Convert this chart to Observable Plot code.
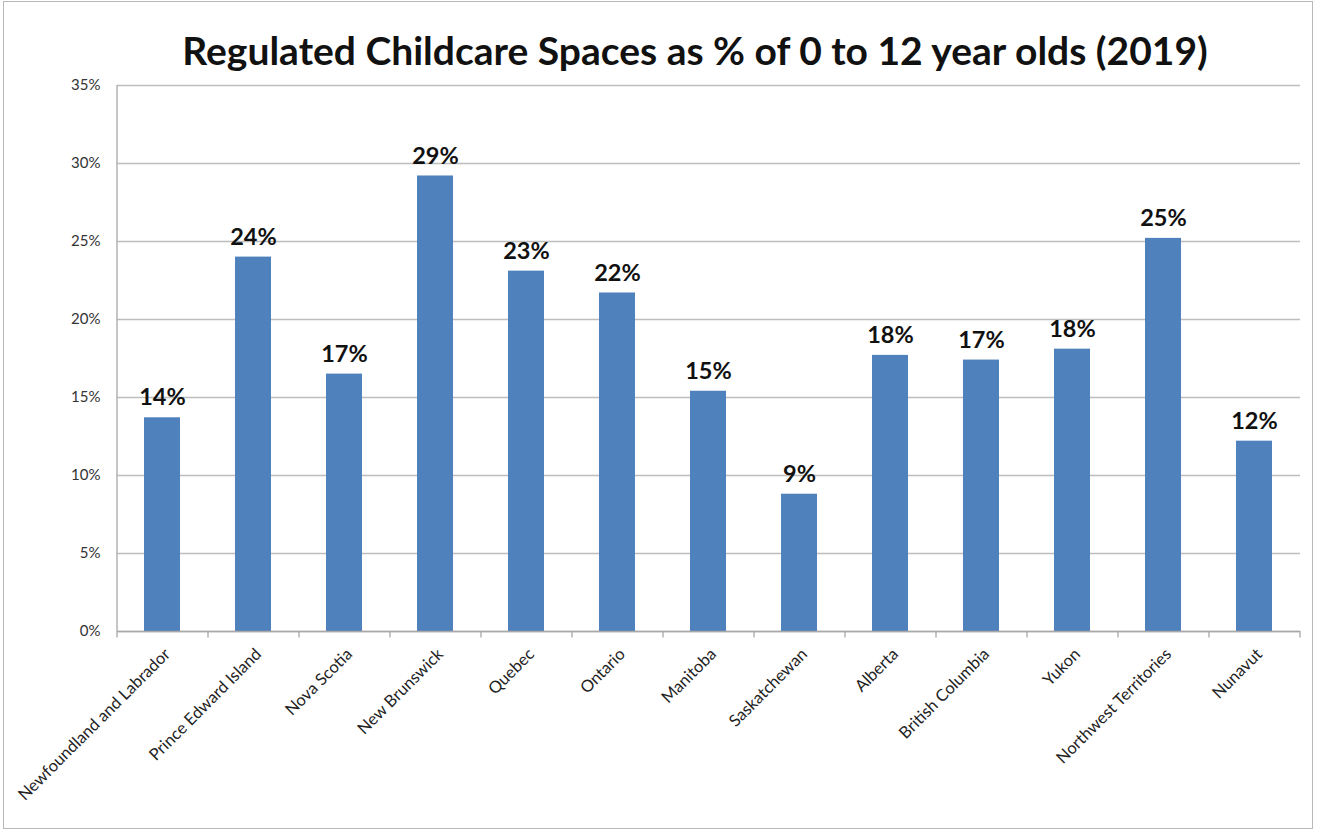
<!DOCTYPE html>
<html>
<head>
<meta charset="utf-8">
<script src="https://cdn.jsdelivr.net/npm/d3@7"></script>
<script src="https://cdn.jsdelivr.net/npm/@observablehq/plot@0.6"></script>
<style>
  html, body { margin: 0; padding: 0; background: #fff; }
  #frame { position: absolute; left: 3px; top: 1px; width: 1310px; height: 828px; border: 1.5px solid #b8b8b8; box-sizing: border-box; }
  #title { position: absolute; left: 0; top: 27px; width: 1390px; text-align: center; font-family: Lato, "Open Sans", sans-serif; font-weight: bold; font-size: 39px; color: #111; white-space: nowrap; }
  #chart { position: absolute; left: 0; top: 60px; }
</style>
</head>
<body>
<div id="frame"></div>
<div id="title">Regulated Childcare Spaces as % of 0 to 12 year olds (2019)</div>
<div id="chart"></div>
<script>
const provinces = ["Newfoundland and Labrador", "Prince Edward Island", "Nova Scotia", "New Brunswick", "Quebec", "Ontario", "Manitoba", "Saskatchewan", "Alberta", "British Columbia", "Yukon", "Northwest Territories", "Nunavut"];
const shares = [0.137, 0.240, 0.165, 0.292, 0.231, 0.217, 0.154, 0.088, 0.177, 0.174, 0.181, 0.252, 0.122];
const valueLabels = ["14%", "24%", "17%", "29%", "23%", "22%", "15%", "9%", "18%", "17%", "18%", "25%", "12%"];
const yTicks = [0, 0.05, 0.10, 0.15, 0.20, 0.25, 0.30, 0.35];

const data = provinces.map((p, i) => ({province: p, share: shares[i], label: valueLabels[i]}));

const width = 1320, height = 765;
const marginLeft = 117, marginRight = 20, marginTop = 25, marginBottom = 194;
const step = (width - marginLeft - marginRight) / provinces.length;

const plot = Plot.plot({
  width, height, marginLeft, marginRight, marginTop, marginBottom,
  style: {fontFamily: "Lato, 'Open Sans', sans-serif", background: "transparent", overflow: "visible"},
  x: {domain: provinces, paddingInner: 0.6, paddingOuter: 0.3, label: null},
  y: {domain: [0, 0.35], label: null},
  marks: [
    Plot.ruleY(yTicks, {stroke: "#bdbdbd", strokeWidth: 1.3}),
    Plot.ruleX([provinces[0]], {dx: -step / 2, stroke: "#a8a8a8", strokeWidth: 1.3}),
    Plot.ruleY(yTicks, {x1: provinces[0], x2: provinces[0], dx: -step/2, insetLeft: -7, stroke: "#a8a8a8"}),
    Plot.ruleX(provinces, {y1: 0, y2: -0.0042, dx: -step / 2, stroke: "#a8a8a8", strokeWidth: 1.3}),
    Plot.ruleX([provinces[provinces.length - 1]], {y1: 0, y2: -0.0042, dx: step / 2, stroke: "#a8a8a8", strokeWidth: 1.3}),
    Plot.barY(data, {x: "province", y: "share", fill: "#4f81bd"}),
    Plot.text(data, {x: "province", y: "share", text: "label", dy: -20, fontSize: 23.5, fontWeight: "bold", fill: "#111"}),
    Plot.axisY({ticks: yTicks, tickFormat: d3.format(".0%"), tickSize: 0, tickPadding: 17, fontSize: 15, fill: "#333", anchor: "left"}),
    Plot.axisX({tickSize: 0, tickRotate: -45, tickPadding: 20, dx: 5, fontSize: 16.5, fill: "#222"}),
    Plot.ruleY([0], {stroke: "#a8a8a8", strokeWidth: 1.3})
  ]
});
document.getElementById("chart").appendChild(plot);
</script>
</body>
</html>
